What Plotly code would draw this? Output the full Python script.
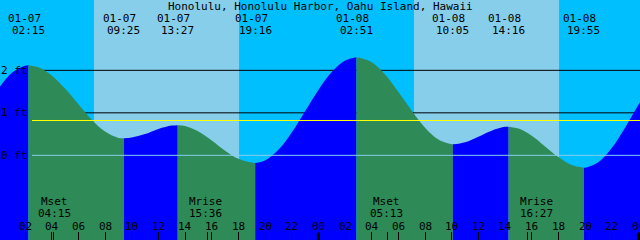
import plotly.graph_objects as go

# ---------------- data ----------------
title_text = "Honolulu, Honolulu Harbor, Oahu Island, Hawaii"

# hourly tide heights (ft), hours from 01-07 00:00
tide_hours = list(range(0, 50))
tide_heights = [1.57, 1.94, 2.11, 2.07, 1.88, 1.57, 1.20, 0.84, 0.56, 0.41,
                0.42, 0.50, 0.62, 0.70, 0.69, 0.56, 0.35, 0.11, -0.08, -0.17,
                -0.12, 0.13, 0.54, 1.04, 1.54, 1.96, 2.23, 2.30, 2.19, 1.90,
                1.49, 1.05, 0.65, 0.37, 0.26, 0.31, 0.44, 0.58, 0.67, 0.63,
                0.46, 0.21, -0.04, -0.23, -0.29, -0.16, 0.17, 0.65, 1.19, 1.71]

# high / low tide events
ext_dates = ["01-07", "01-07", "01-07", "01-07", "01-08", "01-08", "01-08", "01-08"]
ext_times = ["02:15", "09:25", "13:27", "19:16", "02:51", "10:05", "14:16", "19:55"]
ext_heights = [2.12, 0.40, 0.71, -0.18, 2.31, 0.26, 0.67, -0.29]

# sun
sunrise = ["01-07 07:10", "01-08 07:10"]
sunset = ["01-07 18:03", "01-08 18:03"]

# moon events
moon_names = ["Mset", "Mrise", "Mset", "Mrise"]
moon_dates = ["01-07", "01-07", "01-08", "01-08"]
moon_times = ["04:15", "15:36", "05:13", "16:27"]
extra_ticks = ["01-07 04:06", "01-07 15:42", "01-08 05:12", "01-08 15:42"]

level_lines = [1, 2]          # ft lines drawn behind water
level_labels = [0, 1, 2]      # "n ft" labels
msl_level = 0.82              # mean sea level (yellow)
datum_level = 0               # datum line

hour_ticks = list(range(0, 49, 2))
hour_labels = ["%02d" % (h % 24) for h in hour_ticks]
day_ticks = [24, 48]

# ---------------- helpers ----------------
def to_hours(date, hm):
    day = int(date.split("-")[1]) - 7
    hh, mm = hm.split(":")
    return day * 24 + int(hh) + int(mm) / 60.0

def stamp(s):
    d, t = s.split()
    return to_hours(d, t)

ext_hours = [to_hours(d, t) for d, t in zip(ext_dates, ext_times)]

# colours
NIGHT = "#00BFFF"
DAY = "#87CEEB"
FLOOD = "#0000FF"
EBB = "#2E8B57"
MSL = "#FFFF00"
DATUM = "#87CEEB"
FONT = dict(family="DejaVu Sans Mono", size=11, color="black")

X0 = 0.12
XR = [X0, X0 + 48]
YR = [-1.992, 3.655]

# merge hourly points and extremes
pts = sorted(list(zip(tide_hours, tide_heights)) + list(zip(ext_hours, ext_heights)))
bounds = [pts[0][0]] + ext_hours + [pts[-1][0]]

fig = go.Figure()
for i in range(len(bounds) - 1):
    a, b = bounds[i], bounds[i + 1]
    seg = [p for p in pts if a - 1e-9 <= p[0] <= b + 1e-9]
    xs = [p[0] for p in seg]
    ys = [p[1] for p in seg]
    color = FLOOD if ys[-1] > ys[0] else EBB
    fig.add_trace(go.Scatter(x=xs, y=[YR[0] - 1] * len(xs), mode="lines",
                             line=dict(width=0), hoverinfo="skip", showlegend=False))
    fig.add_trace(go.Scatter(x=xs, y=ys, mode="lines", fill="tonexty",
                             fillcolor=color, line=dict(width=0, shape="spline", color=color),
                             hoverinfo="skip", showlegend=False))

shapes = []
for sr, ss in zip(sunrise, sunset):
    shapes.append(dict(type="rect", xref="x", yref="paper", x0=stamp(sr), x1=stamp(ss),
                       y0=0, y1=1, fillcolor=DAY, line=dict(width=0), layer="below"))
for lv in level_lines:
    shapes.append(dict(type="line", xref="paper", yref="y", x0=0.05, x1=1, y0=lv, y1=lv,
                       line=dict(color="black", width=1), layer="below"))
shapes.append(dict(type="line", xref="paper", yref="y", x0=0.05, x1=1, y0=msl_level, y1=msl_level,
                   line=dict(color=MSL, width=1), layer="above"))
shapes.append(dict(type="line", xref="paper", yref="y", x0=0.05, x1=1, y0=datum_level, y1=datum_level,
                   line=dict(color=DATUM, width=1), layer="above"))
for d in day_ticks:
    shapes.append(dict(type="line", xref="x", yref="paper", x0=d, x1=d, y0=0, y1=7.5 / 240,
                       line=dict(color="black", width=3), layer="above"))

def note(text, xref, yref, x, y, xshift=0, xanchor="center"):
    return dict(text=text, xref=xref, yref=yref, x=x, y=y, xshift=xshift,
                showarrow=False, font=FONT, xanchor=xanchor, yanchor="middle",
                borderpad=0, borderwidth=0)

ann = [note(title_text, "paper", "paper", 0.5, 1 - 6.3 / 240)]
for d, t, h in zip(ext_dates, ext_times, ext_hours):
    ann.append(note(d, "x", "paper", h, 1 - 18.3 / 240, xshift=-4))
    ann.append(note(t, "x", "paper", h, 1 - 30 / 240))
for n, d, t in zip(moon_names, moon_dates, moon_times):
    h = to_hours(d, t)
    ann.append(note(n, "x", "paper", h, 1 - 201.5 / 240, xshift=-1))
    ann.append(note(t, "x", "paper", h, 1 - 213.8 / 240, xshift=-1))
for lv in level_labels:
    ann.append(note("%d ft" % lv, "paper", "y", 0, lv, xshift=1, xanchor="left"))
for h, lab in zip(hour_ticks, hour_labels):
    ann.append(note(lab, "x", "paper", h, 1 - 226 / 240))

tickvals = [h for h in hour_ticks if h not in day_ticks] + [stamp(s) for s in extra_ticks]

fig.update_layout(
    width=640, height=240, margin=dict(l=0, r=0, t=0, b=0),
    paper_bgcolor=NIGHT, plot_bgcolor=NIGHT,
    shapes=shapes, annotations=ann, showlegend=False,
    xaxis=dict(range=XR, showgrid=False, zeroline=False, showline=False,
               ticks="inside", ticklen=8, tickwidth=1, tickcolor="black",
               tickvals=tickvals, showticklabels=False, fixedrange=True),
    yaxis=dict(range=YR, visible=False, showgrid=False, zeroline=False, fixedrange=True),
)

fig.write_html("out.html")
